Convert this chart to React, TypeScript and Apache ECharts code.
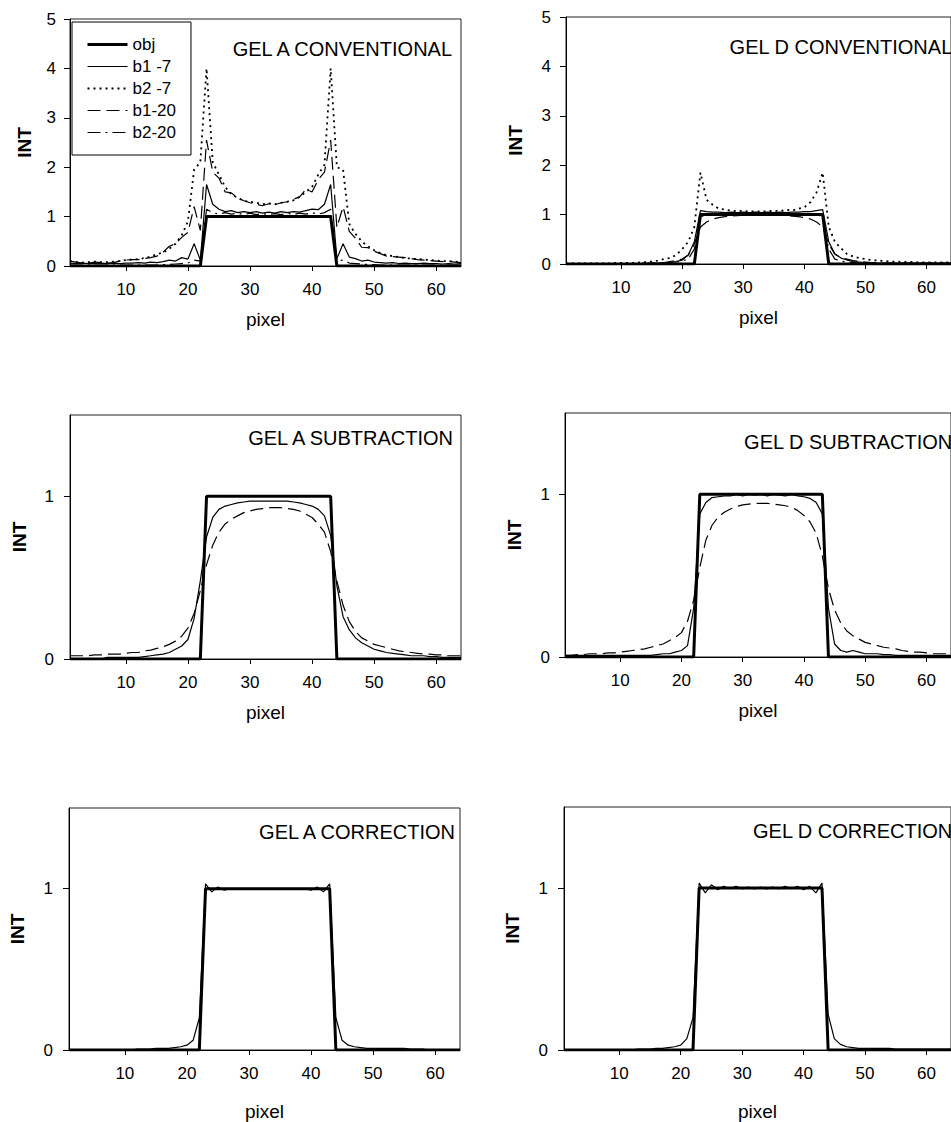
import React, { useEffect, useRef } from "react";
import * as echarts from "echarts";

const FONT = "'Liberation Sans', Arial, Helvetica, sans-serif";

const pixels = [
  1, 2, 3, 4, 5, 6, 7, 8, 9, 10, 11, 12, 13, 14, 15, 16, 17, 18, 19, 20, 21, 22, 23, 24, 25, 26, 27, 28, 29, 30, 31, 32,
  33, 34, 35, 36, 37, 38, 39, 40, 41, 42, 43, 44, 45, 46, 47, 48, 49, 50, 51, 52, 53, 54, 55, 56, 57, 58, 59, 60, 61, 62,
  63, 64,
];
const xTicks = [10, 20, 30, 40, 50, 60];
const yTicksConv = [0, 1, 2, 3, 4, 5];
const yTicksNorm = [0, 1];

const obj = [
  0, 0, 0, 0, 0, 0, 0, 0, 0, 0,
  0, 0, 0, 0, 0, 0, 0, 0, 0, 0,
  0, 0, 1, 1, 1, 1, 1, 1, 1, 1,
  1, 1, 1, 1, 1, 1, 1, 1, 1, 1,
  1, 1, 1, 0, 0, 0, 0, 0, 0, 0,
  0, 0, 0, 0, 0, 0, 0, 0, 0, 0,
  0, 0, 0, 0,
];

// GEL A CONVENTIONAL
const gelA_b1_7 = [
  0.06, 0.05, 0.06, 0.05, 0.05, 0.06, 0.05, 0.06, 0.05, 0.06,
  0.06, 0.07, 0.06, 0.08, 0.07, 0.09, 0.12, 0.1, 0.17, 0.14,
  0.45, 0.12, 1.65, 1.25, 1.15, 1.1, 1.12, 1.08, 1.1, 1.08,
  1.1, 1.07, 1.09, 1.07, 1.1, 1.08, 1.1, 1.09, 1.12, 1.15,
  1.14, 1.25, 1.65, 0.15, 0.45, 0.18, 0.15, 0.1, 0.12, 0.08,
  0.07, 0.06, 0.07, 0.05, 0.06, 0.05, 0.05, 0.06, 0.05, 0.05,
  0.04, 0.05, 0.04, 0.05,
];
const gelA_b2_7 = [
  0.1, 0.08, 0.07, 0.08, 0.09, 0.08, 0.08, 0.09, 0.1, 0.12,
  0.13, 0.14, 0.16, 0.19, 0.24, 0.27, 0.35, 0.45, 0.62, 0.9,
  1.95, 2.1, 4.0, 2.1, 1.85, 1.6, 1.45, 1.38, 1.32, 1.3,
  1.28, 1.25, 1.27, 1.25, 1.28, 1.3, 1.33, 1.4, 1.5, 1.6,
  1.85, 2.05, 4.0, 2.0, 1.95, 0.85, 0.65, 0.5, 0.4, 0.32,
  0.26, 0.22, 0.2, 0.18, 0.16, 0.15, 0.14, 0.13, 0.12, 0.11,
  0.1, 0.1, 0.09, 0.08,
];
const gelA_b1_20 = [
  0.1, 0.08, 0.06, 0.06, 0.08, 0.07, 0.06, 0.07, 0.1, 0.12,
  0.13, 0.13, 0.15, 0.17, 0.2, 0.28, 0.4, 0.45, 0.58, 0.68,
  1.2, 0.72, 2.55, 1.9, 1.78, 1.5, 1.48, 1.38, 1.32, 1.28,
  1.25, 1.22, 1.26, 1.24, 1.28, 1.3, 1.35, 1.4, 1.55, 1.5,
  1.75, 1.9, 2.55, 0.78, 1.2, 0.7, 0.56, 0.38, 0.37, 0.3,
  0.25, 0.2, 0.19, 0.18, 0.17, 0.15, 0.13, 0.12, 0.11, 0.1,
  0.09, 0.09, 0.08, 0.07,
];
const gelA_b2_20 = [
  0.02, 0.02, 0.02, 0.02, 0.02, 0.02, 0.02, 0.02, 0.02, 0.02,
  0.02, 0.02, 0.02, 0.02, 0.02, 0.03, 0.03, 0.04, 0.05, 0.06,
  0.12, 0.1, 1.15, 1.08, 1.05, 1.08, 1.05, 1.07, 1.04, 1.07,
  1.04, 1.06, 1.04, 1.06, 1.04, 1.07, 1.04, 1.07, 1.05, 1.08,
  1.05, 1.08, 1.15, 0.1, 0.12, 0.06, 0.05, 0.04, 0.03, 0.03,
  0.02, 0.02, 0.02, 0.02, 0.02, 0.02, 0.02, 0.02, 0.02, 0.02,
  0.02, 0.02, 0.02, 0.02,
];

// GEL D CONVENTIONAL
const gelD_b1_7 = [
  0.01, 0.01, 0.01, 0.01, 0.01, 0.01, 0.01, 0.01, 0.01, 0.01,
  0.01, 0.01, 0.01, 0.01, 0.02, 0.02, 0.02, 0.03, 0.05, 0.08,
  0.18, 0.45, 1.08, 1.06, 1.05, 1.05, 1.04, 1.05, 1.04, 1.05,
  1.04, 1.05, 1.04, 1.05, 1.04, 1.05, 1.04, 1.05, 1.05, 1.06,
  1.06, 1.08, 1.1, 0.45, 0.2, 0.12, 0.08, 0.05, 0.04, 0.03,
  0.02, 0.02, 0.02, 0.02, 0.02, 0.02, 0.02, 0.02, 0.02, 0.02,
  0.02, 0.02, 0.02, 0.02,
];
const gelD_b2_7 = [
  0.01, 0.01, 0.01, 0.01, 0.01, 0.01, 0.01, 0.01, 0.02, 0.02,
  0.02, 0.02, 0.03, 0.04, 0.05, 0.07, 0.1, 0.12, 0.18, 0.3,
  0.45, 0.75, 1.85, 1.3, 1.2, 1.12, 1.1, 1.08, 1.07, 1.08,
  1.06, 1.07, 1.06, 1.07, 1.08, 1.07, 1.1, 1.08, 1.12, 1.15,
  1.25, 1.45, 1.85, 0.75, 0.45, 0.32, 0.2, 0.15, 0.12, 0.1,
  0.08, 0.07, 0.06, 0.05, 0.05, 0.04, 0.04, 0.04, 0.03, 0.03,
  0.03, 0.03, 0.03, 0.03,
];
const gelD_b1_20 = [
  0.01, 0.01, 0.01, 0.01, 0.01, 0.01, 0.01, 0.01, 0.01, 0.01,
  0.01, 0.01, 0.015, 0.02, 0.02, 0.03, 0.03, 0.05, 0.07, 0.1,
  0.18, 0.4, 0.75, 0.85, 0.91, 0.94, 0.96, 0.97, 0.98, 0.99,
  0.99, 0.99, 0.99, 0.99, 0.99, 0.99, 0.98, 0.97, 0.96, 0.94,
  0.91, 0.85, 0.75, 0.4, 0.2, 0.13, 0.1, 0.07, 0.05, 0.04,
  0.03, 0.03, 0.02, 0.02, 0.02, 0.02, 0.02, 0.02, 0.02, 0.02,
  0.02, 0.02, 0.02, 0.02,
];
const gelD_b2_20 = [
  0.01, 0.01, 0.01, 0.01, 0.01, 0.01, 0.01, 0.01, 0.01, 0.01,
  0.01, 0.01, 0.01, 0.01, 0.01, 0.02, 0.02, 0.03, 0.04, 0.06,
  0.1, 0.3, 0.95, 1.0, 1.01, 1.0, 1.01, 1.0, 1.01, 1.0,
  1.0, 1.0, 1.0, 1.0, 1.0, 1.01, 1.0, 1.01, 1.0, 1.01,
  1.0, 1.01, 0.95, 0.3, 0.1, 0.06, 0.04, 0.03, 0.02, 0.02,
  0.01, 0.01, 0.01, 0.01, 0.01, 0.01, 0.01, 0.01, 0.01, 0.01,
  0.01, 0.01, 0.01, 0.01,
];

// SUBTRACTION
const subA_7 = [
  0.0, 0.0, 0.0, 0.0, 0.0, 0.0, 0.01, 0.01, 0.01, 0.01,
  0.01, 0.01, 0.015, 0.02, 0.025, 0.03, 0.04, 0.06, 0.08, 0.12,
  0.25, 0.48, 0.75, 0.87, 0.92, 0.94, 0.95, 0.96, 0.965, 0.97,
  0.97, 0.97, 0.97, 0.97, 0.97, 0.97, 0.965, 0.96, 0.95, 0.94,
  0.92, 0.88, 0.76, 0.45, 0.26, 0.18, 0.13, 0.1, 0.08, 0.06,
  0.05, 0.04, 0.035, 0.03, 0.025, 0.02, 0.02, 0.02, 0.015, 0.015,
  0.01, 0.01, 0.01, 0.01,
];
const subA_20 = [
  0.02, 0.02, 0.02, 0.02, 0.025, 0.025, 0.03, 0.03, 0.03, 0.035,
  0.04, 0.04, 0.05, 0.055, 0.065, 0.075, 0.09, 0.11, 0.14, 0.19,
  0.28, 0.42, 0.58, 0.7, 0.78, 0.83, 0.86, 0.88, 0.9, 0.91,
  0.92, 0.925, 0.93, 0.93, 0.93, 0.925, 0.92, 0.91, 0.89, 0.87,
  0.83, 0.78, 0.66, 0.48, 0.33, 0.23, 0.17, 0.13, 0.11, 0.09,
  0.08, 0.07, 0.06, 0.05, 0.045, 0.04, 0.035, 0.03, 0.03, 0.025,
  0.025, 0.02, 0.02, 0.02,
];
const subD_7 = [
  0.01, 0.01, 0.01, 0.01, 0.01, 0.01, 0.01, 0.01, 0.01, 0.01,
  0.01, 0.01, 0.01, 0.01, 0.01, 0.015, 0.02, 0.02, 0.03, 0.04,
  0.07, 0.3, 0.88, 0.95, 0.98, 0.985, 0.99, 0.99, 1.0, 0.99,
  1.0, 0.995, 1.0, 0.99, 1.0, 0.995, 0.99, 1.0, 0.99, 0.985,
  0.975, 0.95, 0.88, 0.3, 0.08, 0.04, 0.03, 0.04, 0.03, 0.02,
  0.02, 0.02, 0.015, 0.015, 0.01, 0.01, 0.01, 0.01, 0.01, 0.01,
  0.01, 0.01, 0.01, 0.01,
];
const subD_20 = [
  0.01, 0.01, 0.015, 0.015, 0.02, 0.02, 0.02, 0.025, 0.025, 0.03,
  0.035, 0.04, 0.045, 0.05, 0.06, 0.07, 0.08, 0.1, 0.12, 0.15,
  0.22, 0.35, 0.55, 0.72, 0.81, 0.86, 0.89, 0.91, 0.925, 0.935,
  0.94, 0.945, 0.945, 0.945, 0.94, 0.935, 0.93, 0.92, 0.9, 0.87,
  0.83, 0.76, 0.62, 0.42, 0.29, 0.21, 0.16, 0.13, 0.11, 0.09,
  0.08, 0.07, 0.06, 0.055, 0.05, 0.04, 0.035, 0.03, 0.03, 0.025,
  0.02, 0.02, 0.02, 0.02,
];

// CORRECTION
const corrA = [
  0, 0, 0, 0, 0, 0, 0, 0, 0, 0,
  0, 0.005, 0.005, 0.005, 0.01, 0.01, 0.01, 0.015, 0.02, 0.03,
  0.06, 0.2, 1.03, 0.98, 1.01, 0.99, 1.0, 1.0, 1.0, 1.0,
  1.0, 1.0, 1.0, 1.0, 1.0, 1.0, 1.0, 1.0, 1.0, 0.99,
  1.01, 0.98, 1.03, 0.2, 0.06, 0.03, 0.02, 0.015, 0.01, 0.01,
  0.01, 0.01, 0.01, 0.01, 0.01, 0.005, 0.005, 0.005, 0, 0,
  0, 0, 0, 0,
];
const corrD = [
  0, 0, 0, 0, 0, 0, 0, 0, 0, 0,
  0, 0, 0.005, 0.005, 0.005, 0.01, 0.01, 0.015, 0.02, 0.03,
  0.07, 0.2, 1.03, 0.97, 1.02, 0.99, 1.01, 0.995, 1.01, 0.995,
  1.005, 0.995, 1.005, 0.995, 1.005, 0.995, 1.01, 0.995, 1.01, 0.99,
  1.01, 0.97, 1.03, 0.22, 0.07, 0.035, 0.02, 0.015, 0.01, 0.01,
  0.01, 0.01, 0.01, 0.01, 0.005, 0.005, 0.005, 0.005, 0.005, 0.005,
  0.005, 0.005, 0.005, 0.005,
];

const legendNames = ["obj", "b1 -7", "b2 -7", "b1-20", "b2-20"];

const STYLE: Record<string, any> = {
  obj: { width: 3, type: "solid" },
  thin: { width: 1.2, type: "solid" },
  dot: { width: 1.8, type: [2, 4] },
  dash: { width: 1.2, type: [13, 6] },
  dashdot: { width: 1.2, type: [13, 5, 2, 5] },
};

type Panel = {
  title: string;
  titleRight: number;
  titleMid: number;
  grid: { left: number; top: number; width: number; height: number };
  yMax: number;
  yTicks: number[];
  yLabelMargin: number;
  yNameGap: number;
  xNameGap: number;
  lines: { name: string; values: number[]; style: string; z: number }[];
};

const panels: Panel[] = [
  {
    title: "GEL A CONVENTIONAL",
    titleRight: 496,
    titleMid: 49,
    grid: { left: 70, top: 19, width: 391, height: 247 },
    yMax: 5,
    yTicks: yTicksConv,
    yLabelMargin: 14,
    yNameGap: 36,
    xNameGap: 44,
    lines: [
      { name: "b2 -7", values: gelA_b2_7, style: "dot", z: 2 },
      { name: "b1-20", values: gelA_b1_20, style: "dash", z: 2 },
      { name: "b2-20", values: gelA_b2_20, style: "dashdot", z: 2 },
      { name: "b1 -7", values: gelA_b1_7, style: "thin", z: 3 },
      { name: "obj", values: obj, style: "obj", z: 4 },
    ],
  },
  {
    title: "GEL D CONVENTIONAL",
    titleRight: -2,
    titleMid: 47,
    grid: { left: 566, top: 17, width: 389, height: 247 },
    yMax: 5,
    yTicks: yTicksConv,
    yLabelMargin: 15,
    yNameGap: 41,
    xNameGap: 44,
    lines: [
      { name: "b2 -7", values: gelD_b2_7, style: "dot", z: 2 },
      { name: "b1-20", values: gelD_b1_20, style: "dash", z: 2 },
      { name: "b2-20", values: gelD_b2_20, style: "dashdot", z: 2 },
      { name: "b1 -7", values: gelD_b1_7, style: "thin", z: 3 },
      { name: "obj", values: obj, style: "obj", z: 4 },
    ],
  },
  {
    title: "GEL A SUBTRACTION",
    titleRight: 495,
    titleMid: 438,
    grid: { left: 70, top: 415, width: 391, height: 244 },
    yMax: 1.5,
    yTicks: yTicksNorm,
    yLabelMargin: 16,
    yNameGap: 41,
    xNameGap: 44,
    lines: [
      { name: "subtraction -20", values: subA_20, style: "dash", z: 2 },
      { name: "subtraction -7", values: subA_7, style: "thin", z: 3 },
      { name: "obj", values: obj, style: "obj", z: 4 },
    ],
  },
  {
    title: "GEL D SUBTRACTION",
    titleRight: -2,
    titleMid: 442,
    grid: { left: 565, top: 413, width: 390, height: 244 },
    yMax: 1.5,
    yTicks: yTicksNorm,
    yLabelMargin: 15,
    yNameGap: 41,
    xNameGap: 44,
    lines: [
      { name: "subtraction -20", values: subD_20, style: "dash", z: 2 },
      { name: "subtraction -7", values: subD_7, style: "thin", z: 3 },
      { name: "obj", values: obj, style: "obj", z: 4 },
    ],
  },
  {
    title: "GEL A CORRECTION",
    titleRight: 493,
    titleMid: 832,
    grid: { left: 69, top: 808, width: 391, height: 242 },
    yMax: 1.5,
    yTicks: yTicksNorm,
    yLabelMargin: 16,
    yNameGap: 42,
    xNameGap: 52,
    lines: [
      { name: "correction", values: corrA, style: "thin", z: 3 },
      { name: "obj", values: obj, style: "obj", z: 4 },
    ],
  },
  {
    title: "GEL D CORRECTION",
    titleRight: -2,
    titleMid: 831,
    grid: { left: 564, top: 807, width: 390, height: 244 },
    yMax: 1.5,
    yTicks: yTicksNorm,
    yLabelMargin: 16,
    yNameGap: 42,
    xNameGap: 52,
    lines: [
      { name: "correction", values: corrD, style: "thin", z: 3 },
      { name: "obj", values: obj, style: "obj", z: 4 },
    ],
  },
];

function buildOption() {
  const grids: any[] = [];
  const xAxes: any[] = [];
  const yAxes: any[] = [];
  const series: any[] = [];
  const titles: any[] = [];

  panels.forEach((p, i) => {
    grids.push({
      ...p.grid,
      show: true,
      borderColor: "#222",
      borderWidth: 1,
      backgroundColor: "transparent",
      containLabel: false,
    });
    xAxes.push({
      type: "value",
      gridIndex: i,
      min: 1,
      max: 64,
      axisLine: { show: true, onZero: false, lineStyle: { color: "#000", width: 1 } },
      axisTick: { show: true, length: 5, customValues: xTicks, lineStyle: { color: "#000" } },
      axisLabel: { customValues: xTicks, margin: 15, fontSize: 17, color: "#000", fontFamily: FONT },
      splitLine: { show: false },
      name: "pixel",
      nameLocation: "middle",
      nameGap: p.xNameGap,
      nameTextStyle: { fontSize: 19, color: "#000", fontFamily: FONT, lineHeight: 19 },
    });
    yAxes.push({
      type: "value",
      gridIndex: i,
      min: 0,
      max: p.yMax,
      axisLine: { show: true, onZero: false, lineStyle: { color: "#000", width: 1 } },
      axisTick: { show: true, length: 6, customValues: p.yTicks, lineStyle: { color: "#000" } },
      axisLabel: {
        customValues: p.yTicks,
        margin: p.yLabelMargin,
        fontSize: 17,
        color: "#000",
        fontFamily: FONT,
      },
      splitLine: { show: false },
      name: "INT",
      nameLocation: "middle",
      nameGap: p.yNameGap,
      nameTextStyle: { fontSize: 19, fontWeight: "bold", color: "#000", fontFamily: FONT, lineHeight: 19 },
    });
    titles.push({
      text: p.title,
      right: p.titleRight,
      top: p.titleMid - 10,
      padding: 0,
      textStyle: { fontSize: 20, fontWeight: "normal", color: "#000", fontFamily: FONT, lineHeight: 20 },
    });
    p.lines.forEach((l) => {
      series.push({
        type: "line",
        name: l.name,
        xAxisIndex: i,
        yAxisIndex: i,
        data: pixels.map((x, k) => [x, l.values[k]]),
        symbol: "none",
        silent: true,
        z: l.z,
        itemStyle: { color: "#000" },
        lineStyle: { color: "#000", ...STYLE[l.style] },
      });
    });
  });

  return {
    animation: false,
    backgroundColor: "#fff",
    title: titles,
    grid: grids,
    xAxis: xAxes,
    yAxis: yAxes,
    legend: {
      data: legendNames,
      orient: "vertical",
      left: 72,
      top: 22,
      padding: [14, 15, 14, 14],
      itemWidth: 40,
      itemHeight: 14,
      itemGap: 5,
      borderColor: "#000",
      borderWidth: 1,
      backgroundColor: "#fff",
      selectedMode: false,
      itemStyle: { opacity: 0, borderWidth: 0 },
      lineStyle: { width: "inherit", type: "inherit", color: "#000" },
      textStyle: { fontSize: 17, color: "#000", fontFamily: FONT },
      z: 10,
    },
    series,
  };
}

export default function App() {
  const ref = useRef<HTMLDivElement>(null);
  useEffect(() => {
    if (!ref.current) return;
    const chart = echarts.init(ref.current, undefined, { renderer: "svg" });
    chart.setOption(buildOption() as any);
    return () => chart.dispose();
  }, []);
  return (
    <div
      ref={ref}
      style={{ position: "absolute", left: 0, top: 0, width: 951, height: 1122, background: "#fff" }}
    />
  );
}
